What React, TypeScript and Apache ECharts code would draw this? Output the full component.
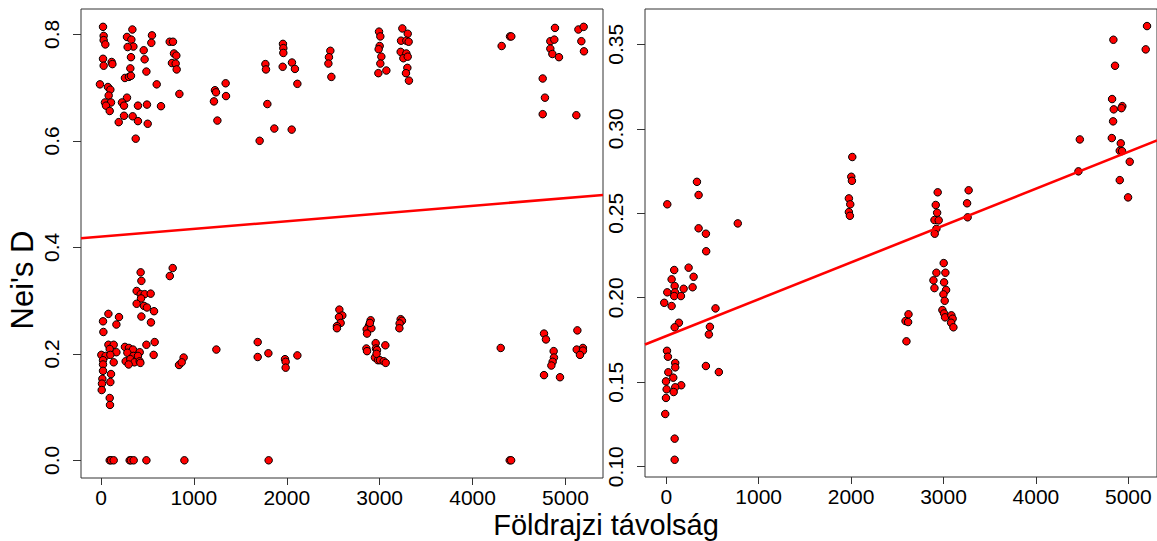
import React, { useEffect, useRef } from "react";
import * as echarts from "echarts";

const FONT = "'Liberation Sans', Arial, Helvetica, sans-serif";

const xTickValues = [0, 1000, 2000, 3000, 4000, 5000];
const leftYTicks = [0, 0.2, 0.4, 0.6, 0.8];
const rightYTicks = [0.1, 0.15, 0.2, 0.25, 0.3, 0.35];

const xTitle = "Földrajzi távolság";
const yTitle = "Nei's D";

// Left panel, upper group
const leftUpperPoints: number[][] = [
  [22, 0.814], [29, 0.797], [29, 0.789], [47, 0.781], [338, 0.809], [280, 0.795], [327, 0.79],
  [349, 0.777], [287, 0.776], [549, 0.798], [542, 0.784], [460, 0.77], [740, 0.786], [775, 0.786],
  [786, 0.764], [811, 0.76], [764, 0.746], [804, 0.745], [815, 0.734], [22, 0.754], [29, 0.741],
  [115, 0.748], [123, 0.744], [323, 0.757], [316, 0.736], [470, 0.753], [489, 0.73], [258, 0.718],
  [301, 0.72], [323, 0.722], [600, 0.706], [844, 0.688], [-11, 0.706], [75, 0.701], [101, 0.696],
  [83, 0.685], [43, 0.672], [108, 0.672], [54, 0.666], [94, 0.656], [280, 0.681], [226, 0.672],
  [248, 0.666], [398, 0.666], [495, 0.668], [646, 0.665], [248, 0.647], [191, 0.635], [341, 0.646],
  [398, 0.637], [503, 0.632], [374, 0.604],
  [1227, 0.695], [1238, 0.691], [1342, 0.708], [1346, 0.684], [1216, 0.674], [1253, 0.638],
  [1770, 0.744], [1776, 0.734], [1791, 0.669], [1708, 0.6], [1866, 0.623], [1959, 0.782],
  [1963, 0.774], [1963, 0.765], [1956, 0.739], [2056, 0.747], [2088, 0.735], [2114, 0.707], [2053, 0.621],
  [2469, 0.769], [2454, 0.757], [2448, 0.745], [2480, 0.72],
  [2993, 0.805], [3007, 0.796], [3000, 0.778], [2989, 0.772], [3018, 0.758], [3007, 0.745],
  [2986, 0.727], [3072, 0.732],
  [3244, 0.811], [3302, 0.801], [3230, 0.788], [3287, 0.788], [3312, 0.786], [3226, 0.767],
  [3287, 0.764], [3255, 0.755], [3302, 0.758], [3298, 0.737], [3283, 0.727], [3315, 0.713],
  [4313, 0.778], [4403, 0.796], [4417, 0.796],
  [4887, 0.812], [4837, 0.787], [4880, 0.79], [4837, 0.773], [4859, 0.763], [4930, 0.757],
  [4755, 0.717], [4779, 0.681], [4755, 0.65],
  [5139, 0.809], [5196, 0.814], [5171, 0.787], [5199, 0.768], [5117, 0.648],
];

// Left panel, lower group
const leftLowerPoints: number[][] = [
  [427, 0.353], [435, 0.337], [772, 0.361], [741, 0.346], [384, 0.318], [427, 0.312], [470, 0.312],
  [535, 0.313], [431, 0.304], [384, 0.294], [463, 0.29], [495, 0.287], [571, 0.28], [435, 0.27],
  [538, 0.259], [80, 0.275], [194, 0.269], [22, 0.261], [166, 0.255], [26, 0.241],
  [578, 0.222], [489, 0.217], [567, 0.198],
  [80, 0.217], [137, 0.217], [94, 0.209], [166, 0.203], [258, 0.213], [301, 0.211], [344, 0.208],
  [284, 0.202], [417, 0.203], [349, 0.196], [398, 0.196], [4, 0.198], [50, 0.196], [101, 0.198],
  [22, 0.188], [137, 0.184], [266, 0.186], [316, 0.19], [360, 0.184], [417, 0.186], [298, 0.18],
  [424, 0.183], [22, 0.18], [22, 0.168], [108, 0.162], [15, 0.153], [101, 0.147], [11, 0.144],
  [8, 0.132], [94, 0.117], [97, 0.104],
  [840, 0.179], [890, 0.193], [869, 0.184],
  [1242, 0.208], [1687, 0.222], [1687, 0.194], [1802, 0.201], [1981, 0.19], [1988, 0.185],
  [1988, 0.174], [2114, 0.197],
  [2566, 0.283], [2598, 0.272], [2562, 0.269], [2580, 0.258], [2540, 0.252], [2540, 0.248],
  [2903, 0.263], [2885, 0.253], [2860, 0.246], [2911, 0.248], [2864, 0.238], [2857, 0.21],
  [2864, 0.205], [2957, 0.22], [2960, 0.21], [2949, 0.193], [2982, 0.188], [2971, 0.207],
  [2967, 0.2], [3004, 0.188], [3043, 0.186], [3065, 0.183], [3061, 0.216], [2895, 0.258],
  [3226, 0.265], [3240, 0.262], [3215, 0.257], [3212, 0.248],
  [4303, 0.211],
  [4769, 0.238], [4790, 0.227], [4873, 0.205], [4876, 0.193], [4862, 0.185], [4848, 0.178],
  [4769, 0.16], [4941, 0.156],
  [5128, 0.244], [5121, 0.208], [5188, 0.211], [5188, 0.206], [5156, 0.198],
];

// Left panel, zero values
const leftZeroPoints: number[][] = [
  [94, 0], [108, 0], [137, 0], [309, 0], [322, 0], [352, 0], [489, 0], [898, 0], [1805, 0],
  [4400, 0], [4415, 0],
];

// Right panel
const rightPoints: number[][] = [
  [11, 0.2553], [332, 0.2686], [350, 0.2608], [350, 0.2411], [429, 0.2379], [432, 0.2275],
  [774, 0.244], [86, 0.2164], [242, 0.2178], [58, 0.2109], [296, 0.2124], [91, 0.2069],
  [285, 0.2062], [188, 0.2053], [11, 0.2032], [94, 0.2032], [86, 0.201], [159, 0.201],
  [-22, 0.197], [58, 0.1951], [137, 0.1852], [91, 0.1825], [533, 0.1937], [472, 0.1828],
  [461, 0.1783], [8, 0.1686], [18, 0.1651], [97, 0.1614], [97, 0.1588], [22, 0.1559],
  [429, 0.1596], [569, 0.156], [76, 0.1527], [-3, 0.1505], [162, 0.1482], [4, 0.1458],
  [97, 0.147], [80, 0.1442], [-3, 0.1407], [-11, 0.1312], [91, 0.1166], [91, 0.1041],
  [2013, 0.2833], [2002, 0.2716], [2009, 0.2692], [1976, 0.2588], [1991, 0.2553], [1976, 0.2507],
  [1987, 0.2485],
  [2621, 0.1902], [2589, 0.1862], [2617, 0.1856], [2599, 0.1742],
  [2923, 0.2148], [2891, 0.2103], [2902, 0.2057], [3002, 0.2205], [3020, 0.2148], [3006, 0.2091],
  [3028, 0.2046], [2999, 0.202], [3013, 0.1982], [2988, 0.1927], [3006, 0.1907], [3017, 0.1884],
  [3085, 0.1896], [3099, 0.1876], [3082, 0.1852], [3107, 0.1825],
  [2937, 0.2624], [2916, 0.2549], [2931, 0.2503], [2902, 0.246], [2948, 0.2458], [2923, 0.2408],
  [2905, 0.2379],
  [3272, 0.2636], [3255, 0.2559], [3261, 0.2476],
  [4475, 0.2937], [4460, 0.2748],
  [4838, 0.3527], [4856, 0.3373], [4824, 0.3176], [4842, 0.3115], [4935, 0.3134], [4925, 0.3122],
  [4835, 0.3044], [4821, 0.2945], [4918, 0.2914], [4907, 0.287], [4932, 0.2868], [5015, 0.2805],
  [4907, 0.2696], [4997, 0.2594],
  [5202, 0.3608], [5188, 0.347],
];

// Fitted regression lines (end points read at the plot edges)
const leftFitLine: number[][] = [[-215, 0.4169], [5404, 0.4982]];
const rightFitLine: number[][] = [[-230, 0.1723], [5310, 0.2931]];

export default function App() {
  const ref = useRef<HTMLDivElement>(null);

  useEffect(() => {
    if (!ref.current) return;
    const chart = echarts.init(ref.current, undefined, { renderer: "svg" });

    const axisColor = "#333";
    const xAxisCfg = (gridIndex: number, min: number, max: number) => ({
      type: "value",
      gridIndex,
      min,
      max,
      position: "bottom",
      axisLine: { show: false, onZero: false },
      splitLine: { show: false },
      axisTick: {
        show: true,
        inside: false,
        customValues: xTickValues,
        length: 7,
        lineStyle: { color: axisColor, width: 1 },
      },
      axisLabel: {
        customValues: xTickValues,
        fontSize: 21,
        fontFamily: FONT,
        color: "#000",
        margin: 9,
        formatter: (v: number) => String(v),
      },
    });
    const yAxisCfg = (gridIndex: number, min: number, max: number, ticks: number[], digits: number) => ({
      type: "value",
      gridIndex,
      min,
      max,
      position: "left",
      axisLine: { show: false, onZero: false },
      splitLine: { show: false },
      axisTick: {
        show: true,
        inside: false,
        customValues: ticks,
        length: 8,
        lineStyle: { color: axisColor, width: 1 },
      },
      axisLabel: {
        customValues: ticks,
        rotate: 90,
        fontSize: 21,
        fontFamily: FONT,
        color: "#000",
        margin: 19,
        formatter: (v: number) => v.toFixed(digits),
      },
    });

    const pointStyle = { color: "#ff0000", borderColor: "#000", borderWidth: 1, opacity: 1 };
    const scatter = (data: number[][], idx: number) => ({
      type: "scatter",
      xAxisIndex: idx,
      yAxisIndex: idx,
      data,
      symbolSize: 7.5,
      itemStyle: pointStyle,
      z: 2,
    });
    const fit = (data: number[][], idx: number) => ({
      type: "line",
      xAxisIndex: idx,
      yAxisIndex: idx,
      data,
      showSymbol: false,
      symbol: "none",
      lineStyle: { color: "#ff0000", width: 2.6 },
      z: 3,
    });

    chart.setOption({
      animation: false,
      backgroundColor: "#fff",
      grid: [
        { left: 81, top: 9, width: 522, height: 469, show: true, borderColor: axisColor, borderWidth: 1, backgroundColor: "transparent" },
        { left: 645, top: 9, width: 513, height: 468, show: true, borderColor: axisColor, borderWidth: 1, backgroundColor: "transparent" },
      ],
      xAxis: [xAxisCfg(0, -215, 5404), xAxisCfg(1, -230, 5310)],
      yAxis: [
        yAxisCfg(0, -0.0332, 0.8475, leftYTicks, 1),
        yAxisCfg(1, 0.0939, 0.3709, rightYTicks, 2),
      ],
      series: [
        scatter(leftUpperPoints, 0),
        scatter(leftLowerPoints, 0),
        scatter(leftZeroPoints, 0),
        fit(leftFitLine, 0),
        scatter(rightPoints, 1),
        fit(rightFitLine, 1),
      ],
      graphic: [
        {
          type: "text",
          x: 606,
          y: 525,
          style: {
            text: xTitle,
            fontSize: 29,
            fontFamily: FONT,
            fill: "#000",
            align: "center",
            verticalAlign: "middle",
          },
        },
        {
          type: "text",
          x: 22,
          y: 280,
          rotation: Math.PI / 2,
          style: {
            text: yTitle,
            fontSize: 31,
            fontFamily: FONT,
            fill: "#000",
            align: "center",
            verticalAlign: "middle",
          },
        },
      ],
    });

    return () => chart.dispose();
  }, []);

  return (
    <div
      ref={ref}
      style={{ position: "absolute", left: 0, top: 0, width: 1157, height: 541, background: "#fff" }}
    />
  );
}
